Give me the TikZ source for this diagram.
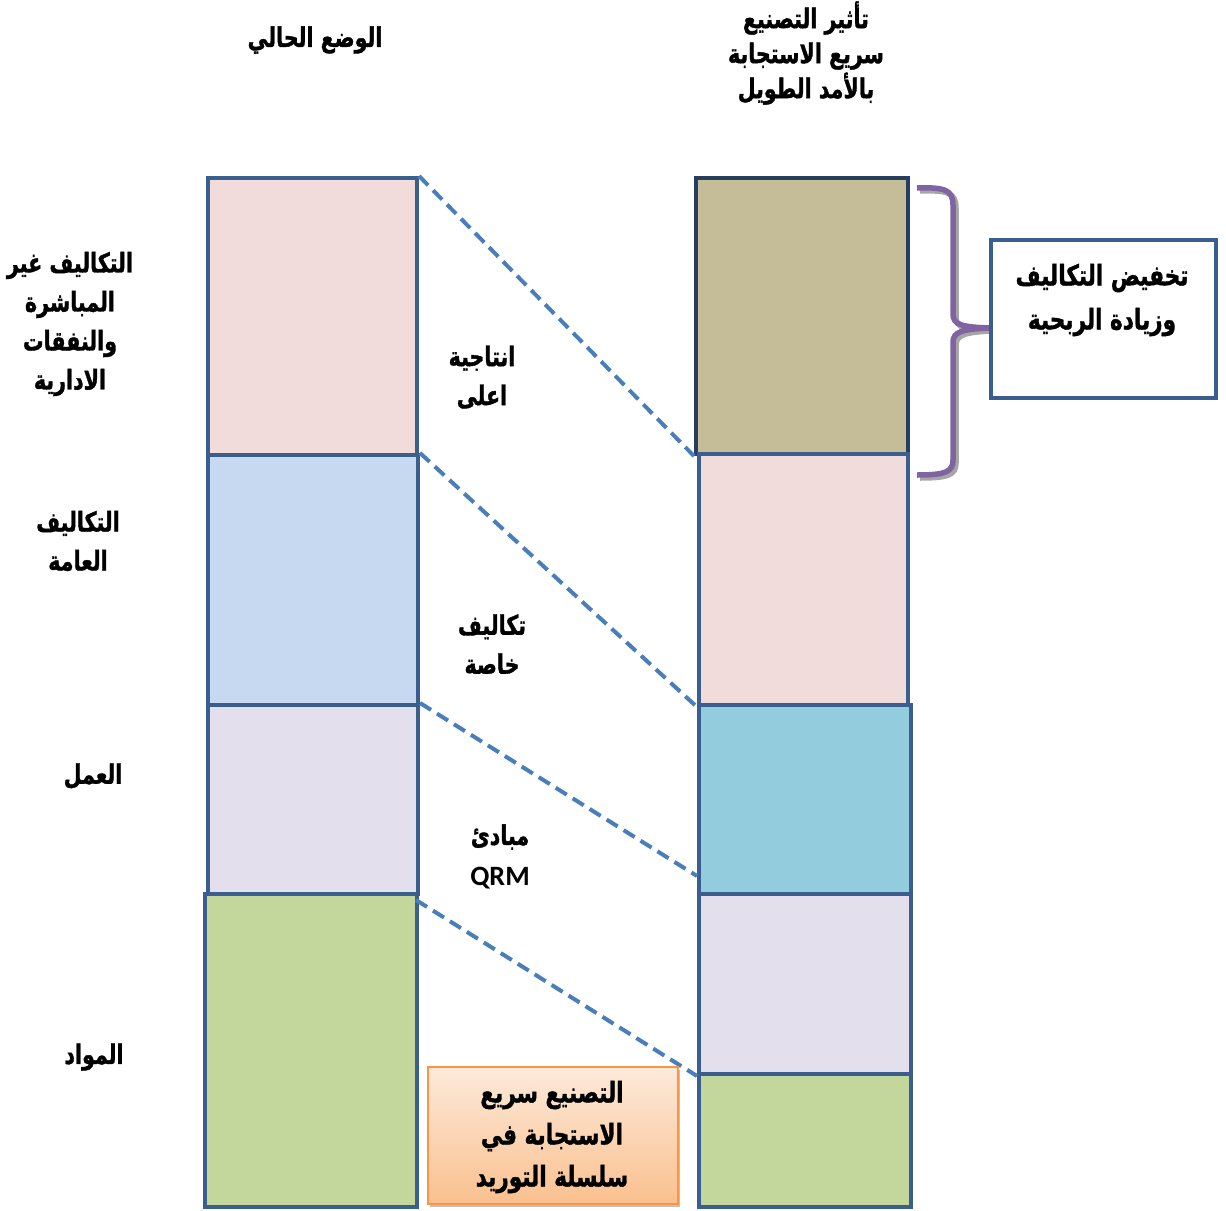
\documentclass[tikz,border=0pt]{standalone}
\usepackage{fontspec}
\usetikzlibrary{calc,shadows}
\TeXXeTstate=1
\newfontfamily\arfont[Script=Arabic, BoldFeatures={FakeBold=1.5}]{DejaVu Sans}
\newfontfamily\qrmfont{Carlito}
% one right-to-left line, stretched upward to the proportions of the label face
\newcommand{\AR}[1]{\scalebox{1.03}[1.35]{\beginR #1\endR}}

\definecolor{frame}{HTML}{3A5F8E}
\definecolor{frameDark}{HTML}{243F60}
\definecolor{pinkF}{HTML}{F2DCDB}
\definecolor{blueF}{HTML}{C6D9F1}
\definecolor{lavF}{HTML}{E4DFEC}
\definecolor{greenF}{HTML}{C3D69B}
\definecolor{khakiF}{HTML}{C4BD97}
\definecolor{tealF}{HTML}{93CDDD}
\definecolor{dashC}{HTML}{4A7EBB}
\definecolor{braceC}{HTML}{8064A2}
\definecolor{orangeB}{HTML}{F79646}
\definecolor{orangeTop}{HTML}{FDEADA}
\definecolor{orangeBot}{HTML}{FAC08F}

\tikzset{
  bar/.style={draw=frame, line width=4pt, inner sep=0pt, anchor=north west},
  lbl/.style={font=\arfont\bfseries\fontsize{20}{39}\selectfont, align=center, inner sep=0pt},
  dashline/.style={draw=dashC, line width=4pt, dash pattern=on 13pt off 7pt},
}

\begin{document}
\begin{tikzpicture}[x=1pt,y=-1pt]
\useasboundingbox (0,0) rectangle (1226,1210);

% current cost structure
\node[bar, fill=pinkF,  minimum width=209pt, minimum height=277pt] (L1) at (206,176) {};
\node[bar, fill=blueF,  minimum width=210pt, minimum height=250pt] (L2) at (206,453) {};
\node[bar, fill=lavF,   minimum width=210pt, minimum height=189pt] (L3) at (206,703) {};
\node[bar, fill=greenF, minimum width=212pt, minimum height=313pt] (L4) at (203,892) {};

% cost structure with quick response manufacturing
\node[bar, fill=khakiF, draw=frameDark, minimum width=212pt, minimum height=276pt] (R1) at (694,176) {};
\node[bar, fill=pinkF,  minimum width=209pt, minimum height=251pt] (R2) at (697,452) {};
\node[bar, fill=tealF,  minimum width=212pt, minimum height=189pt] (R3) at (697,703) {};
\node[bar, fill=lavF,   minimum width=212pt, minimum height=180pt] (R4) at (697,892) {};
\node[bar, fill=greenF, minimum width=212pt, minimum height=133pt] (R5) at (697,1072) {};

% dashed links between the two columns
\coordinate (a3) at (697,876);
\coordinate (s4) at (416,900);
\draw[dashline] (L1.north east) -- (R1.south west);
\draw[dashline] (L2.north east) -- (R2.south west);
\draw[dashline] (L3.north east) -- (a3);
\draw[dashline] (s4) -- (R4.south west);

% curly brace with its shadow
\foreach \col/\off in {gray!70/3, braceC/0}{
  \draw[line width=5.5pt, \col, shift={(\off,\off)}]
    (917,188) .. controls (945,187) and (953,190) .. (953,205) -- (953,314)
    .. controls (953,325) and (962,327) .. (990,328)
    .. controls (962,329) and (953,332) .. (953,342) -- (953,460)
    .. controls (953,472) and (945,475) .. (917,475);
}

% result box
\node[draw=frame, line width=4pt, fill=white, minimum width=225pt, minimum height=158pt, anchor=north west, inner sep=0pt] (T) at (989,238) {};
\node[lbl, font=\arfont\bfseries\fontsize{21}{44}\selectfont] (Ttxt) at (1102,300) {\AR{تخفيض التكاليف}\\\AR{وزيادة الربحية}};

% supply chain box
\node[draw=orangeB, line width=1.5pt, top color=orangeTop, bottom color=orangeBot, minimum width=250pt, minimum height=137pt, anchor=north west, inner sep=0pt,
      drop shadow={shadow xshift=2pt, shadow yshift=-3pt, fill=gray!60, opacity=0.8}] (Q) at (427,1066) {};
\node[lbl, font=\arfont\bfseries\fontsize{21}{42}\selectfont] (Qtxt) at (552,1137) {\AR{التصنيع سريع}\\\AR{الاستجابة في}\\\AR{سلسلة التوريد}};

% column titles
\node[lbl] (h1) at (315,40) {\AR{الوضع الحالي}};
\node[lbl, font=\arfont\bfseries\fontsize{20}{35}\selectfont] (h2) at (806,53) {\AR{تأثير التصنيع}\\\AR{سريع الاستجابة}\\\AR{بالأمد الطويل}};

% row labels
\node[lbl] (c1) at (70,324) {\AR{التكاليف غير}\\\AR{المباشرة}\\\AR{والنفقات}\\\AR{الادارية}};
\node[lbl] (c2) at (78,541) {\AR{التكاليف}\\\AR{العامة}};
\node[lbl] (c3) at (93,776) {\AR{العمل}};
\node[lbl] (c4) at (94,1057) {\AR{المواد}};

% effects between the columns
\node[lbl] (m1) at (482,377) {\AR{انتاجية}\\\AR{اعلى}};
\node[lbl] (m2) at (492,644) {\AR{تكاليف}\\\AR{خاصة}};
\node[lbl] (m3) at (500,837) {\AR{مبادئ}};
\node[font=\qrmfont\bfseries\fontsize{28}{30}\selectfont, inner sep=0pt] (m4) at (500,878) {QRM};
\end{tikzpicture}
\end{document}
